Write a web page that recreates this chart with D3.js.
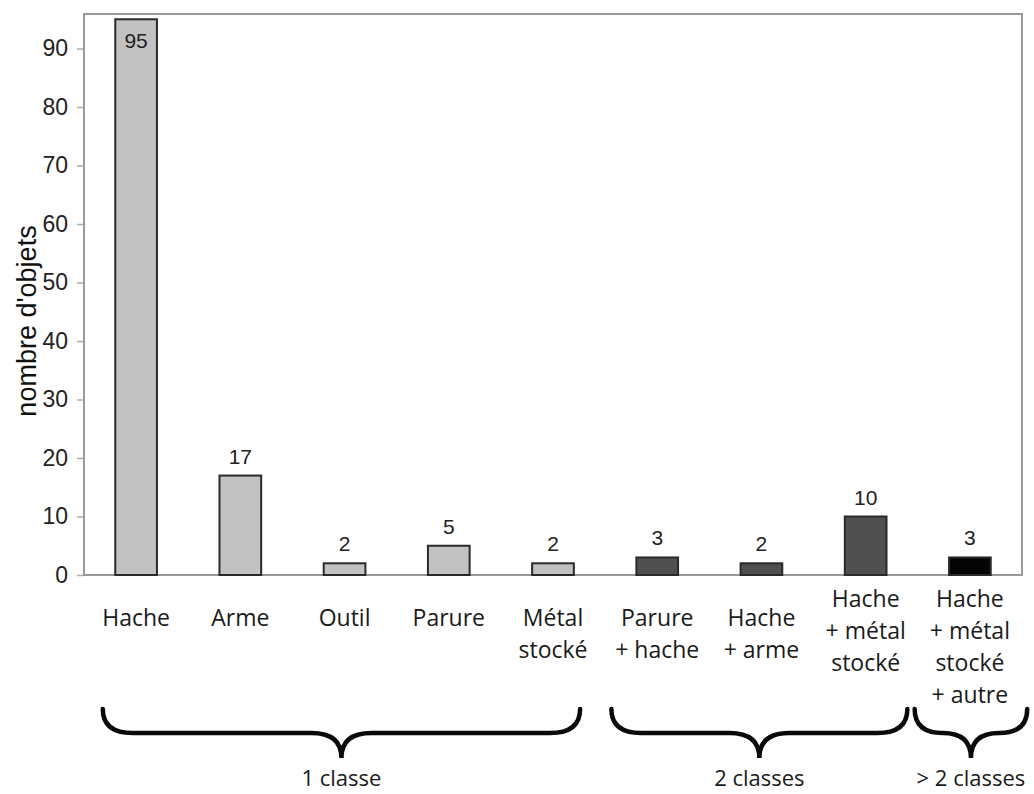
<!DOCTYPE html>
<html><head><meta charset="utf-8">
<script src="https://cdn.jsdelivr.net/npm/d3@7"></script>
<style>body{margin:0;background:#fff}svg{display:block}</style>
</head><body>
<svg id="c" width="1034" height="794"></svg>
<script>
const categories = [
  ["Hache"], ["Arme"], ["Outil"], ["Parure"], ["Métal","stocké"],
  ["Parure","+ hache"], ["Hache","+ arme"], ["Hache","+ métal","stocké"],
  ["Hache","+ métal","stocké","+ autre"]
];
const values = [95, 17, 2, 5, 2, 3, 2, 10, 3];
const classes = [1, 1, 1, 1, 1, 2, 2, 2, 3];
const yTicks = [0, 10, 20, 30, 40, 50, 60, 70, 80, 90];
const groupLabels = ["1 classe", "2 classes", "> 2 classes"];
const groupSpans = [[-0.32, 4.26], [4.56, 7.4], [7.47, 8.55]];
const yTitle = "nombre d'objets";

const fillFor = {1: "#c2c2c2", 2: "#505050", 3: "#050505"};
const svg = d3.select("#c");
const m = {l: 84, r: 12, t: 14, b: 219};
const W = 1034, H = 794;
const iw = W - m.l - m.r, ih = H - m.t - m.b;

const x = d3.scaleBand().domain(d3.range(categories.length)).range([m.l, m.l + iw]).paddingInner(0.6).paddingOuter(0.3);
const y = d3.scaleLinear().domain([0, 95.9]).range([m.t + ih, m.t]);
const xc = d3.scaleLinear().domain([0, categories.length - 1]).range([x(0) + x.bandwidth()/2, x(categories.length-1) + x.bandwidth()/2]);

// y axis ticks
const ya = svg.append("g").attr("transform", `translate(${m.l},0)`)
  .call(d3.axisLeft(y).tickValues(yTicks).tickSize(7).tickPadding(9));
ya.select(".domain").remove();
ya.selectAll(".tick line").attr("stroke", "#aaa").attr("stroke-width", 1.5);
ya.selectAll(".tick text").attr("font-family", "Liberation Sans, Arial, sans-serif").attr("font-size", 23).attr("fill", "#222");

// frame
svg.append("rect").attr("x", m.l).attr("y", m.t).attr("width", iw).attr("height", ih)
  .attr("fill", "none").attr("stroke", "#999").attr("stroke-width", 2);

// bars
const data = values.map((v, i) => ({i, v, c: classes[i], lab: categories[i]}));
svg.append("g").selectAll("rect").data(data).join("rect")
  .attr("x", d => x(d.i)).attr("width", x.bandwidth())
  .attr("y", d => y(d.v)).attr("height", d => y(0) - y(d.v))
  .attr("fill", d => fillFor[d.c]).attr("stroke", "#2a2a2a").attr("stroke-width", 2);

// value labels
svg.append("g").selectAll("text").data(data).join("text")
  .attr("x", d => x(d.i) + x.bandwidth()/2)
  .attr("y", d => d.v > 90 ? y(d.v) + 29 : y(d.v) - 12)
  .attr("text-anchor", "middle")
  .attr("font-family", "Liberation Sans, Arial, sans-serif").attr("font-size", 21).attr("fill", "#222")
  .text(d => d.v);

// category labels
const cl = svg.append("g").selectAll("text").data(data).join("text")
  .attr("text-anchor", "middle")
  .attr("font-family", "Open Sans, sans-serif").attr("font-size", 23).attr("fill", "#1a1a1a")
  .attr("transform", d => `translate(${x(d.i) + x.bandwidth()/2},${d.lab.length > 2 ? 607 : 626})`);
cl.selectAll("tspan").data(d => d.lab).join("tspan")
  .attr("x", 0).attr("dy", (t, j) => j === 0 ? 0 : 32).text(t => t);

// y title
svg.append("text").attr("transform", `translate(36,321) rotate(-90)`)
  .attr("text-anchor", "middle").attr("font-family", "Liberation Sans, Arial, sans-serif")
  .attr("font-size", 27).attr("fill", "#111").text(yTitle);

// braces
const yTop = 709, yMid = 733, yTip = 758;
groupSpans.forEach((s, k) => {
  const x0 = xc(s[0]), x1 = xc(s[1]), xm = (x0 + x1) / 2;
  const r = Math.min(30, (x1 - x0) / 4);
  const p = `M${x0},${yTop} Q${x0},${yMid} ${x0 + r},${yMid} L${xm - r},${yMid} Q${xm},${yMid} ${xm},${yTip} Q${xm},${yMid} ${xm + r},${yMid} L${x1 - r},${yMid} Q${x1},${yMid} ${x1},${yTop}`;
  svg.append("path").attr("d", p).attr("fill", "none").attr("stroke", "#0a0a0a").attr("stroke-width", 4.5).attr("stroke-linecap", "round");
  svg.append("text").attr("x", xm).attr("y", 786).attr("text-anchor", "middle")
    .attr("font-family", "Open Sans, sans-serif").attr("font-size", 22).attr("fill", "#1a1a1a").text(groupLabels[k]);
});
</script>
</body></html>
